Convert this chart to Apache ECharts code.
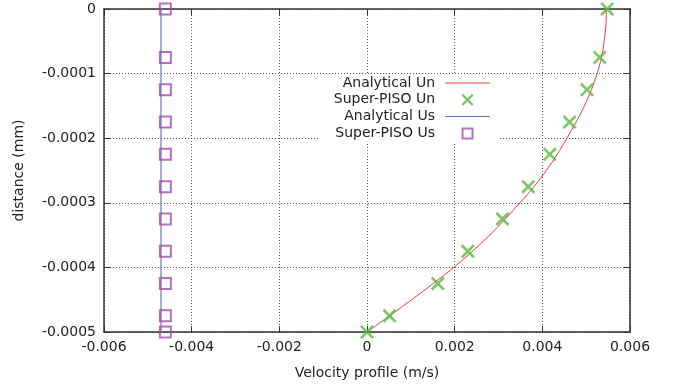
<!DOCTYPE html>
<html>
<head>
<meta charset="utf-8">
<script src="https://cdn.jsdelivr.net/npm/echarts@6/dist/echarts.min.js"></script>
<style>html,body{margin:0;padding:0;background:#fff;}#c{width:678px;height:387px;}</style>
</head>
<body>
<div id="c"></div>
<script>
// sample heights (mm)
const sampleY = [0, -0.000075, -0.000125, -0.000175, -0.000225, -0.000275, -0.000325, -0.000375, -0.000425, -0.000475, -0.0005];
const superPisoUn = [0.00548, 0.00531, 0.00502, 0.00462, 0.00417, 0.00368, 0.00309, 0.0023, 0.001615, 0.000515, 0];
const superPisoUs = [-0.0046, -0.0046, -0.0046, -0.0046, -0.0046, -0.0046, -0.0046, -0.0046, -0.0046, -0.0046, -0.0046];
// analytical curve
const analyticY = [0, -0.000025, -0.00005, -0.000075, -0.0001, -0.000125, -0.00015, -0.000175, -0.0002, -0.000225, -0.00025, -0.000275, -0.0003, -0.00035, -0.0004, -0.00045, -0.0005];
const analyticUn = [0.00546, 0.00545, 0.00541, 0.00535, 0.00525, 0.00512, 0.00496, 0.00477, 0.00456, 0.00434, 0.00409, 0.00381, 0.00349, 0.0028, 0.00198, 0.00102, 0];
const analyticUsY = [0, -0.0005];
const analyticUs = [-0.0047, -0.0047];
const xTicks = {min: -0.006, max: 0.006, interval: 0.002};
const yTicks = {min: -0.0005, max: 0, interval: 0.0001};

const pair = (xs, ys) => xs.map((x, i) => [x, ys[i]]);
const fmt = d => v => Math.abs(v) < 1e-12 ? '0' : v.toFixed(d);
const FONT = 'DejaVu Sans';
const RED = '#f03c3c', GREEN = '#58b840', BLUE = '#6476c8', PURPLE = '#a24ca8';
const axisLine = {show: true, onZero: false, lineStyle: {color: '#333', width: 1.5}};
const tick = {show: true, inside: true, length: 6, lineStyle: {color: '#333', width: 1}};
const grid = {show: true, lineStyle: {color: '#555', type: [1, 2], width: 1}};
const crossPath = 'path://M0,1.6L1.6,0L6,4.4L10.4,0L12,1.6L7.6,6L12,10.4L10.4,12L6,7.6L1.6,12L0,10.4L4.4,6Z';
const hollowSquare = 'path://M0,0L12,0L12,12L0,12Z M2,2L2,10L10,10L10,2Z';
const hLine = 'path://M0,0L45,0L45,1L0,1Z';

const chart = echarts.init(document.getElementById('c'), null, {renderer: 'canvas'});
chart.setOption({
  animation: false,
  backgroundColor: '#fff',
  textStyle: {fontFamily: FONT},
  grid: {left: 104, right: 48, top: 9, bottom: 55, containLabel: false},
  legend: {
    orient: 'vertical', align: 'right', right: 180, top: 75,
    padding: [0, 8, 2, 15], itemWidth: 45, itemHeight: 12, itemGap: 0.8,
    symbolKeepAspect: true,
    backgroundColor: '#fff',
    textStyle: {fontFamily: FONT, fontSize: 14, color: '#222', lineHeight: 16, padding: [0, 5, 0, 0]},
    data: [
      {name: 'Analytical Un', icon: hLine, itemStyle: {color: RED, borderWidth: 0}},
      {name: 'Super-PISO Un', icon: crossPath, itemStyle: {color: GREEN, borderWidth: 0}},
      {name: 'Analytical Us', icon: hLine, itemStyle: {color: BLUE, borderWidth: 0}},
      {name: 'Super-PISO Us', icon: hollowSquare, itemStyle: {color: PURPLE, borderWidth: 0}}
    ]
  },
  xAxis: [{
    type: 'value', min: xTicks.min, max: xTicks.max, interval: xTicks.interval,
    name: 'Velocity profile (m/s)', nameLocation: 'middle', nameGap: 34,
    nameTextStyle: {fontFamily: FONT, fontSize: 14, color: '#222'},
    axisLine: axisLine, axisTick: tick, splitLine: grid,
    axisLabel: {fontFamily: FONT, fontSize: 14, color: '#222', margin: 8, formatter: fmt(3)}
  }, {
    type: 'value', position: 'top', min: xTicks.min, max: xTicks.max, interval: xTicks.interval,
    axisLine: axisLine, axisTick: tick, splitLine: {show: false}, axisLabel: {show: false}
  }],
  yAxis: [{
    type: 'value', min: yTicks.min, max: yTicks.max, interval: yTicks.interval,
    name: 'distance (mm)', nameLocation: 'middle', nameGap: 78,
    nameTextStyle: {fontFamily: FONT, fontSize: 14, color: '#222'},
    axisLine: axisLine, axisTick: tick, splitLine: grid,
    axisLabel: {fontFamily: FONT, fontSize: 14, color: '#222', margin: 8, formatter: fmt(4)}
  }, {
    type: 'value', position: 'right', min: yTicks.min, max: yTicks.max, interval: yTicks.interval,
    axisLine: axisLine, axisTick: tick, splitLine: {show: false}, axisLabel: {show: false}
  }],
  series: [{
    name: 'Analytical Un', type: 'line', smooth: 0.3, symbol: 'none',
    lineStyle: {color: RED, width: 1}, itemStyle: {color: RED},
    data: pair(analyticUn, analyticY), z: 2
  }, {
    name: 'Super-PISO Un', type: 'scatter', symbol: crossPath, symbolSize: 14,
    itemStyle: {color: GREEN}, data: pair(superPisoUn, sampleY), z: 3
  }, {
    name: 'Analytical Us', type: 'line', symbol: 'none',
    lineStyle: {color: BLUE, width: 1.2}, itemStyle: {color: BLUE},
    data: pair(analyticUs, analyticUsY), z: 2
  }, {
    name: 'Super-PISO Us', type: 'scatter', symbol: 'rect', symbolSize: 11,
    itemStyle: {color: 'rgba(255,255,255,0)', borderColor: PURPLE, borderWidth: 2},
    data: pair(superPisoUs, sampleY), z: 3
  }]
});
</script>
</body>
</html>
